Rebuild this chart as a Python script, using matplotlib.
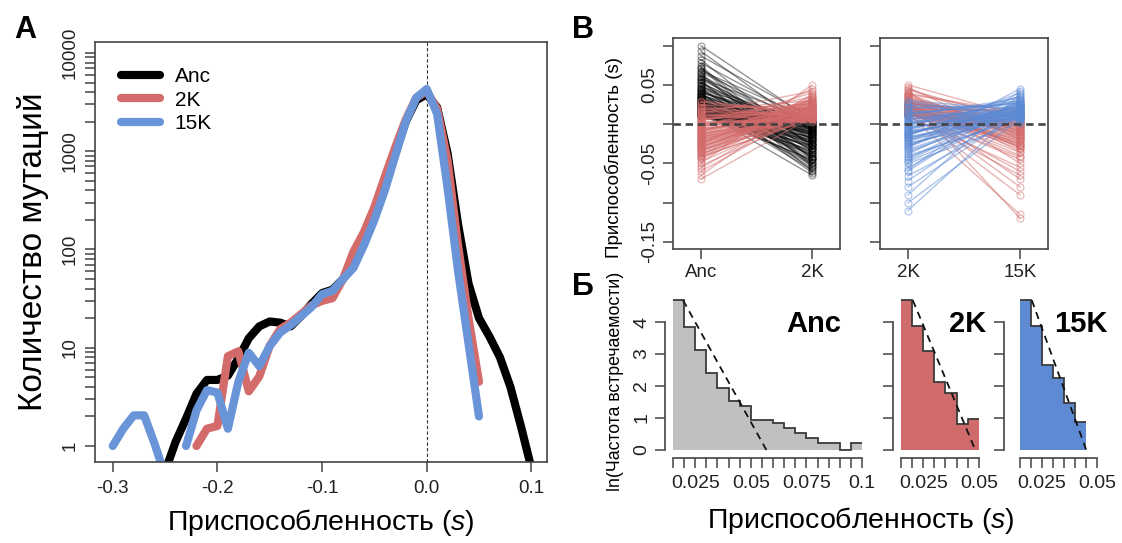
import numpy as np
import matplotlib
matplotlib.use("Agg")
import matplotlib.pyplot as plt

plt.rcParams['font.family'] = ['Liberation Sans', 'DejaVu Sans']
plt.rcParams['mathtext.fontset'] = 'custom'
plt.rcParams['mathtext.rm'] = 'Liberation Sans'
plt.rcParams['mathtext.it'] = 'Liberation Sans:italic'

# ---------------- data: panel A (mutation counts per fitness bin) ----------------
s_bins = [-0.30, -0.29, -0.28, -0.27, -0.26, -0.25, -0.24, -0.23, -0.22, -0.21,
          -0.20, -0.19, -0.18, -0.17, -0.16, -0.15, -0.14, -0.13, -0.12, -0.11,
          -0.10, -0.09, -0.08, -0.07, -0.06, -0.05, -0.04, -0.03, -0.02, -0.01,
          0.00, 0.01, 0.02, 0.03, 0.04, 0.05, 0.06, 0.07, 0.08, 0.09, 0.10]
counts_anc = [0, 0, 0, 0, 0, 0.55, 1.1, 1.9, 3.4, 4.7,
              4.7, 5.2, 7.8, 12.5, 16.5, 18.5, 18, 16.5, 21, 28,
              36, 39, 50, 68, 115, 210, 420, 950, 2000, 3300,
              3800, 2800, 950, 180, 45, 20, 13, 8, 4, 1.6, 0.6]
counts_2k = [0, 0, 0, 0, 0, 0, 0, 0, 1.0, 1.5,
             1.6, 8.2, 9.2, 3.6, 5.1, 10.5, 15.5, 18, 22, 27,
             30, 32, 50, 95, 150, 270, 550, 1100, 2100, 3500,
             4100, 2700, 800, 110, 20, 4.5, 0, 0, 0, 0, 0]
counts_15k = [1.0, 1.5, 2.05, 2.05, 1.05, 0.5, 0, 1.0, 2.3, 3.7,
              3.5, 1.5, 4.5, 8.9, 6.5, 10.4, 14.3, 17, 21, 26,
              35, 38, 50, 65, 110, 200, 400, 900, 2000, 3500,
              4300, 2400, 420, 60, 11, 2.0, 0, 0, 0, 0, 0]
series_names = ['Anc', '2K', '15K']

# ---------------- data: panel B (paired fitness effects) ----------------
anc_black_anc = [0.100, 0.093, 0.087, 0.082, 0.078, 0.074, 0.071, 0.068, 0.065, 0.062,
                 0.060, 0.058, 0.056, 0.054, 0.052, 0.050, 0.048, 0.046, 0.044, 0.043,
                 0.041, 0.040, 0.038, 0.037, 0.036, 0.034, 0.033, 0.032, 0.031, 0.030,
                 0.029, 0.028, 0.027, 0.026, 0.025, 0.024, 0.023, 0.022, 0.021, 0.020,
                 0.019, 0.018, 0.017, 0.016, 0.015, 0.014, 0.013, 0.012, 0.011, 0.010,
                 0.045, 0.042, 0.039, 0.035, 0.032, 0.029, 0.027, 0.025, 0.023, 0.021,
                 0.019, 0.018, 0.017, 0.016, 0.015, 0.014, 0.013, 0.012, 0.012, 0.011,
                 0.011, 0.010, 0.010, 0.013, 0.015, 0.017, 0.020, 0.022, 0.024, 0.026,
                 0.028, 0.031, 0.034, 0.038, 0.047, 0.053, 0.057, 0.061, 0.066, 0.072]
anc_black_2k = [0.005, -0.010, 0.008, -0.030, 0.002, -0.045, -0.020, 0.006, -0.055, -0.012,
                -0.035, 0.004, -0.060, -0.025, -0.008, -0.042, 0.001, -0.050, -0.018, -0.030,
                -0.005, -0.062, -0.038, -0.015, 0.007, -0.048, -0.022, -0.003, -0.056, -0.032,
                -0.010, -0.044, 0.003, -0.027, -0.058, -0.013, -0.036, -0.006, -0.052, -0.020,
                -0.040, -0.002, -0.065, -0.024, -0.009, -0.046, -0.016, -0.033, -0.004, -0.028,
                -0.002, -0.015, 0.006, -0.025, -0.008, -0.040, 0.002, -0.018, -0.005, -0.030,
                -0.012, 0.004, -0.022, -0.001, -0.035, -0.010, 0.008, -0.027, -0.004, -0.017,
                -0.045, 0.000, -0.020, -0.007, -0.038, -0.013, 0.005, -0.024, -0.050, -0.003,
                -0.011, -0.032, 0.001, -0.019, -0.006, -0.043, -0.014, -0.026, -0.001, -0.053]
red_anc = [0.030, 0.025, 0.020, 0.018, 0.015, 0.012, 0.010, 0.008, 0.006, 0.004,
           0.002, 0.000, -0.002, -0.004, -0.006, -0.008, -0.010, -0.012, -0.014, -0.016,
           -0.018, -0.020, -0.022, -0.024, -0.026, -0.028, -0.030, -0.032, -0.034, -0.036,
           -0.038, -0.040, -0.042, -0.045, -0.048, -0.050, -0.053, -0.056, -0.060, -0.065,
           -0.070, 0.005, -0.001, -0.007, -0.013, -0.019, -0.025, -0.031, 0.014, -0.003,
           0.028, 0.022, 0.016, 0.011, 0.007, 0.003, -0.001, -0.005, -0.009, -0.011,
           -0.015, -0.017, -0.021, -0.023, -0.027, -0.029, -0.033, -0.035, -0.039, -0.041,
           0.024, 0.019, 0.013, 0.009, 0.001, -0.003, -0.006, -0.010, -0.014, -0.018,
           -0.022, -0.026, -0.030, -0.037, -0.043, 0.017, 0.006, -0.008, -0.016, -0.024]
red_2k = [0.012, 0.020, 0.008, 0.030, 0.015, 0.004, 0.025, 0.010, 0.018, 0.035,
          0.006, 0.022, 0.013, 0.040, 0.009, 0.016, 0.027, 0.003, 0.019, 0.011,
          0.032, 0.007, 0.024, 0.014, 0.045, 0.010, 0.021, 0.005, 0.017, 0.028,
          0.012, 0.038, 0.008, 0.023, 0.015, 0.050, 0.011, 0.026, 0.018, 0.033,
          0.009, 0.020, 0.006, 0.014, 0.029, 0.010, 0.022, 0.016, 0.042, 0.013,
          0.015, 0.009, 0.021, 0.012, 0.027, 0.007, 0.017, 0.011, 0.024, 0.005,
          0.019, 0.013, 0.031, 0.008, 0.016, 0.022, 0.010, 0.036, 0.014, 0.006,
          0.018, 0.025, 0.011, 0.020, 0.009, 0.030, 0.013, 0.016, 0.023, 0.007,
          0.019, 0.012, 0.026, 0.015, 0.034, 0.010, 0.021, 0.017, 0.008, 0.028]
red2_2k = [0.050, 0.047, 0.044, 0.041, 0.038, 0.036, 0.034, 0.032, 0.030, 0.028,
           0.027, 0.026, 0.025, 0.024, 0.023, 0.022, 0.021, 0.020, 0.019, 0.018,
           0.017, 0.016, 0.015, 0.014, 0.013, 0.012, 0.011, 0.010, 0.035, 0.029,
           0.024, 0.019, 0.015, 0.012, 0.026, 0.020, 0.017, 0.013, 0.031, 0.022,
           0.045, 0.040, 0.037, 0.033, 0.030, 0.028, 0.026, 0.024, 0.022, 0.021,
           0.020, 0.019, 0.018, 0.017, 0.016, 0.015, 0.014, 0.013, 0.012, 0.011,
           0.010, 0.039, 0.027, 0.023, 0.018, 0.014, 0.011, 0.033, 0.025, 0.016]
red2_15k = [0.010, -0.020, 0.005, -0.050, 0.015, -0.010, -0.120, -0.030, 0.000, -0.005,
            -0.070, 0.012, -0.015, -0.025, 0.008, -0.002, -0.040, -0.012, 0.018, -0.008,
            -0.060, -0.018, 0.003, -0.028, -0.115, -0.004, -0.022, 0.006, -0.035, -0.014,
            -0.080, -0.006, -0.045, 0.001, -0.026, -0.010, -0.090, -0.016, -0.002, -0.032,
            -0.004, 0.010, -0.018, 0.002, -0.030, -0.008, 0.014, -0.022, -0.001, -0.012,
            -0.036, 0.006, -0.015, -0.026, 0.000, -0.010, -0.042, 0.004, -0.020, -0.006,
            -0.055, -0.014, 0.008, -0.028, -0.003, -0.019, -0.065, -0.009, 0.001, -0.024]
blue_2k = [0.030, 0.025, 0.020, 0.016, 0.012, 0.009, 0.006, 0.003, 0.000, -0.003,
           -0.006, -0.009, -0.012, -0.015, -0.018, -0.021, -0.024, -0.027, -0.030, -0.034,
           -0.038, -0.042, -0.046, -0.050, -0.055, -0.060, -0.066, -0.072, -0.080, -0.090,
           -0.100, -0.110, 0.014, 0.004, -0.005, -0.013, -0.020, 0.022, -0.001, -0.010,
           0.028, 0.024, 0.018, 0.014, 0.010, 0.007, 0.005, 0.002, 0.001, -0.002,
           -0.004, -0.007, -0.008, -0.011, -0.014, -0.016, -0.019, -0.022, -0.025, -0.028,
           -0.032, -0.036, -0.040, -0.044, -0.048, 0.011, -0.012, -0.017, -0.029, -0.058]
blue_15k = [0.018, 0.010, 0.025, 0.005, 0.030, 0.014, 0.020, 0.008, 0.035, 0.012,
            0.022, 0.003, 0.016, 0.040, 0.011, 0.026, 0.007, 0.019, 0.045, 0.013,
            0.028, 0.009, 0.021, 0.002, 0.017, 0.032, 0.010, 0.024, 0.015, 0.038,
            0.006, 0.020, 0.027, 0.012, 0.018, 0.023, 0.009, 0.014, 0.030, 0.016,
            0.013, 0.021, 0.008, 0.027, 0.016, 0.011, 0.024, 0.006, 0.019, 0.031,
            0.014, 0.022, 0.009, 0.017, 0.036, 0.012, 0.025, 0.018, 0.010, 0.029,
            0.015, 0.020, 0.007, 0.026, 0.013, 0.033, 0.019, 0.011, 0.023, 0.042]
b_left_labels = ['Anc', '2K']
b_right_labels = ['2K', '15K']
b_yticks = [0.10, 0.05, 0.0, -0.05, -0.10, -0.15]
b_yticklabels = ['', '0.05', '', '-0.05', '', '-0.15']

# ---------------- data: panel Б (ln frequency histograms of beneficial effects) ----------------
anc_edges = [0.015, 0.020, 0.025, 0.030, 0.035, 0.040, 0.045, 0.050, 0.055, 0.060,
             0.065, 0.070, 0.075, 0.080, 0.085, 0.090, 0.095, 0.100]
anc_heights = [4.68, 3.83, 3.13, 2.40, 1.93, 1.54, 1.36, 0.94, 0.94, 0.84,
               0.68, 0.52, 0.37, 0.21, 0.21, 0.0, 0.21]
k2_edges = [0.015, 0.020, 0.025, 0.030, 0.035, 0.040, 0.045, 0.050]
k2_heights = [4.68, 3.86, 3.10, 2.14, 1.78, 0.81, 0.97]
k15_edges = [0.015, 0.020, 0.025, 0.030, 0.035, 0.040, 0.045]
k15_heights = [4.68, 3.86, 2.66, 2.25, 1.46, 0.89]
fit_start = [0.0195, 0.0203, 0.0205]
fit_end = [0.057, 0.0484, 0.045]
fit_top = [4.68, 4.68, 4.68]

# ---------------- styling ----------------
BLACK = '#000000'
RED = '#D46B6B'
BLUE = '#6A94D8'
BLUE_B = '#5B8AD6'
AX_COL = '#444444'
W, H = 1122, 543


def R(l, t, r, b):
    return [l / W, 1 - b / H, (r - l) / W, (b - t) / H]


def fxy(x, y):
    return x / W, 1 - y / H


fig = plt.figure(figsize=(W / 100, H / 100), dpi=100)

# ================= Panel A =================
axA = fig.add_axes(R(95, 42, 547, 462))
axA.set_yscale('log')
for vals, col, lab in zip([counts_anc, counts_2k, counts_15k], [BLACK, RED, BLUE], series_names):
    y = np.array(vals, dtype=float)
    y[y <= 0] = np.nan
    axA.plot(s_bins, y, color=col, lw=5.9, solid_capstyle='round',
             solid_joinstyle='round', label=lab)
axA.axvline(0, color='#333333', lw=0.8, ls=(0, (3, 2)), zorder=0)
axA.set_xlim(-0.317, 0.115)
axA.set_ylim(10 ** -0.163, 10 ** 4.112)
axA.set_xticks([-0.3, -0.2, -0.1, 0.0, 0.1])
axA.set_xticklabels(['-0.3', '-0.2', '-0.1', '0.0', '0.1'])
major = [1, 10, 100, 1000, 10000]
minor = [m * 10 ** k for k in range(0, 4) for m in range(2, 10)]
axA.set_yticks(major)
axA.set_yticklabels(['1', '10', '100', '1000', '10000'], rotation=90, va='center')
axA.set_yticks(minor, minor=True)
axA.yaxis.set_minor_formatter(matplotlib.ticker.NullFormatter())
axA.tick_params(axis='both', which='both', direction='out', length=7, width=1.1,
                color=AX_COL, labelsize=13.5, labelcolor='#222222')
axA.tick_params(axis='x', pad=6)
axA.tick_params(axis='y', pad=5)
for sp in axA.spines.values():
    sp.set_color(AX_COL)
    sp.set_linewidth(1.2)
leg = axA.legend(loc='upper left', bbox_to_anchor=(0.015, 0.985), frameon=False,
                 fontsize=15, handlelength=1.9, handletextpad=0.7, labelspacing=0.22)
for h in leg.get_lines():
    h.set_linewidth(5.9)
    h.set_solid_capstyle('round')

fig.text(*fxy(33, 252), 'Количество мутаций', rotation=90, ha='center', va='center',
         fontsize=24)
fig.text(*fxy(321, 522), 'Приспособленность ($\\mathit{s}$)', ha='center', va='center',
         fontsize=20.5)
fig.text(*fxy(25, 30), 'A', ha='center', va='center', fontsize=22, fontweight='bold')

# ================= Panel B =================
axB1 = fig.add_axes(R(673, 38, 840, 249))
axB2 = fig.add_axes(R(880, 38, 1048, 249))


def pair_lines(ax, a, b, col, alpha):
    a = np.asarray(a)
    b = np.asarray(b)
    xs = np.vstack([np.ones_like(a), 2 * np.ones_like(b)])
    ys = np.vstack([a, b])
    ax.plot(xs, ys, color=col, alpha=alpha, lw=1.0, marker='o', ms=5,
            mfc='none', mew=0.8)


pair_lines(axB1, anc_black_anc, anc_black_2k, BLACK, 0.42)
pair_lines(axB1, red_anc, red_2k, RED, 0.5)
pair_lines(axB2, red2_2k, red2_15k, RED, 0.5)
pair_lines(axB2, blue_2k, blue_15k, BLUE_B, 0.5)

for ax, labs in [(axB1, b_left_labels), (axB2, b_right_labels)]:
    ax.axhline(0, color='#444444', lw=1.9, ls=(0, (2.8, 1.8)), zorder=5)
    ax.set_xlim(0.75, 2.25)
    ax.set_ylim(-0.159, 0.1097)
    ax.set_xticks([1, 2])
    ax.set_xticklabels(labs)
    ax.set_yticks(b_yticks)
    ax.tick_params(axis='both', direction='out', length=7, width=1.1, color=AX_COL,
                   labelsize=13.5, labelcolor='#222222')
    for sp in ax.spines.values():
        sp.set_color(AX_COL)
        sp.set_linewidth(1.2)
axB1.set_yticklabels(b_yticklabels, rotation=90, va='center')
axB2.set_yticklabels([''] * len(b_yticks))
fig.text(*fxy(614, 158), 'Приспособленность (s)', rotation=90, ha='center', va='center',
         fontsize=13.5)
fig.text(*fxy(583, 30), 'B', ha='center', va='center', fontsize=22, fontweight='bold')

# ================= Panel Б =================
PXU = 2224.0   # pixels per unit of s
Y0, PYU = 450.0, 32.0


def hist_axes(left_px, xlo, xhi):
    right_px = left_px + (xhi - xlo) * PXU
    top_px = Y0 - 4.75 * PYU
    bot_px = 458.0
    ax = fig.add_axes(R(left_px, top_px, right_px, bot_px))
    ax.set_xlim(xlo, xhi)
    ax.set_ylim(-(bot_px - Y0) / PYU, 4.75)
    return ax


axH1 = hist_axes(665, 0.0114, 0.1036)
axH2 = hist_axes(893, 0.0114, 0.0536)
axH3 = hist_axes(1004, 0.008, 0.0536)

hist_sets = [(axH1, anc_edges, anc_heights, '#C0C0C0', 0.100, 'Anc'),
             (axH2, k2_edges, k2_heights, '#D06B6B', 0.050, '2K'),
             (axH3, k15_edges, k15_heights, '#5E8AD4', 0.050, '15K')]
for i, (ax, edges, hts, fc, xmax, lab) in enumerate(hist_sets):
    ax.stairs(hts, edges, fill=True, facecolor=fc, edgecolor='none', baseline=0)
    ax.stairs(hts, edges, fill=False, baseline=None, color='#3a3a3a', lw=1.3)
    ax.plot([fit_start[i], fit_end[i]], [fit_top[i], 0], color='#111111', lw=1.3,
            ls=(0, (4, 3)))
    ticks = np.round(np.arange(0.015, xmax + 1e-9, 0.005), 3)
    ax.set_xticks(ticks)
    tl = []
    for t in ticks:
        if abs(t - 0.1) < 1e-9:
            tl.append('0.1')
        elif abs(t - 0.05) < 1e-9:
            tl.append('0.05')
        elif abs(t - 0.025) < 1e-9:
            tl.append('0.025')
        elif abs(t - 0.075) < 1e-9:
            tl.append('0.075')
        else:
            tl.append('')
    ax.set_xticklabels(tl)
    ax.set_yticks([0, 1, 2, 3, 4])
    ax.spines['top'].set_visible(False)
    ax.spines['right'].set_visible(False)
    ax.spines['left'].set_bounds(0, 4)
    ax.spines['bottom'].set_bounds(0.015, xmax)
    for sp in ax.spines.values():
        sp.set_color(AX_COL)
        sp.set_linewidth(1.2)
    ax.tick_params(axis='both', direction='out', length=7, width=1.1, color=AX_COL,
                   labelsize=14, labelcolor='#222222')
    ax.tick_params(axis='x', pad=5)
    if i == 0:
        ax.set_yticklabels(['0', '1', '2', '3', '4'], rotation=90, va='center')
    else:
        ax.set_yticklabels([''] * 5)

fig.text(*fxy(814, 324), 'Anc', ha='center', va='center', fontsize=21, fontweight='bold')
fig.text(*fxy(968, 324), '2K', ha='center', va='center', fontsize=21, fontweight='bold')
fig.text(*fxy(1081, 324), '15K', ha='center', va='center', fontsize=21, fontweight='bold')
fig.text(*fxy(615, 381), 'ln(Частота встречаемости)', rotation=90, ha='center',
         va='center', fontsize=12.8)
fig.text(*fxy(861, 520), 'Приспособленность ($\\mathit{s}$)', ha='center', va='center',
         fontsize=20.5)
fig.text(*fxy(583, 287), 'Б', ha='center', va='center', fontsize=22, fontweight='bold')

fig.savefig('out.png', dpi=100)
